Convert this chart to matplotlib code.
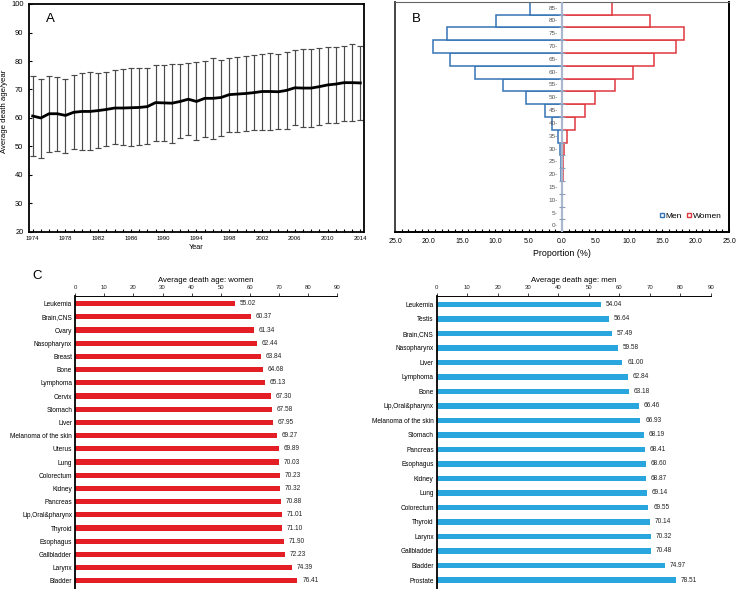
import matplotlib
matplotlib.use('Agg')
import matplotlib.pyplot as plt
from matplotlib.lines import Line2D
from matplotlib.ticker import MultipleLocator, FuncFormatter

plt.rcParams['font.family'] = ['Liberation Sans', 'DejaVu Sans']

# ---------------- Data ----------------
years = list(range(1974, 2015))
mean_age = [60.7, 60.0, 61.5, 61.5, 60.9, 62.0, 62.3, 62.3, 62.6, 63.0,
            63.5, 63.5, 63.6, 63.7, 64.0, 65.4, 65.3, 65.2, 65.8, 66.6,
            65.8, 66.9, 66.9, 67.2, 68.2, 68.4, 68.6, 68.9, 69.3, 69.3,
            69.2, 69.7, 70.6, 70.5, 70.5, 71.0, 71.6, 71.9, 72.4, 72.4, 72.3]
upper_age = [74.9, 73.8, 74.9, 74.5, 73.8, 75.1, 75.7, 76.1, 75.8, 76.1,
             76.7, 77.1, 77.5, 77.5, 77.5, 78.5, 78.7, 78.9, 78.9, 79.3,
             79.6, 79.9, 81.0, 80.3, 81.0, 81.3, 81.9, 82.2, 82.6, 82.8,
             82.4, 83.0, 83.8, 84.3, 84.3, 84.5, 84.9, 84.9, 85.4, 86.0, 85.4]
lower_age = [46.5, 46.0, 48.1, 48.4, 47.6, 49.1, 48.9, 48.8, 49.4, 50.3,
             50.8, 50.5, 50.0, 50.4, 50.8, 52.0, 52.0, 51.3, 53.0, 54.0,
             52.2, 53.4, 52.6, 53.7, 55.2, 55.2, 55.5, 55.9, 55.8, 55.8,
             56.0, 56.0, 57.5, 56.9, 56.8, 57.6, 58.1, 58.2, 58.9, 59.0, 59.3]

age_groups = ['0-', '5-', '10-', '15-', '20-', '25-', '30-', '35-', '40-',
              '45-', '50-', '55-', '60-', '65-', '70-', '75-', '80-', '85-']
men_prop = [0.01, 0.01, 0.02, 0.05, 0.1, 0.1, 0.25, 0.6, 1.5,
            2.6, 5.4, 8.85, 13.0, 16.75, 19.35, 17.15, 9.9, 4.75]
women_prop = [0.02, 0.02, 0.03, 0.05, 0.2, 0.1, 0.35, 0.8, 1.9,
              3.5, 5.0, 7.9, 10.7, 13.7, 17.1, 18.3, 13.1, 7.5]

women_sites = ['Leukemia', 'Brain,CNS', 'Ovary', 'Nasopharynx', 'Breast', 'Bone',
               'Lymphoma', 'Cervix', 'Stomach', 'Liver', 'Melanoma of the skin',
               'Uterus', 'Lung', 'Colorectum', 'Kidney', 'Pancreas',
               'Lip,Oral&pharynx', 'Thyroid', 'Esophagus', 'Gallbladder',
               'Larynx', 'Bladder']
women_age = [55.02, 60.37, 61.34, 62.44, 63.84, 64.68, 65.13, 67.30, 67.58,
             67.95, 69.27, 69.89, 70.03, 70.23, 70.32, 70.88, 71.01, 71.10,
             71.90, 72.23, 74.39, 76.41]

men_sites = ['Leukemia', 'Testis', 'Brain,CNS', 'Nasopharynx', 'Liver', 'Lymphoma',
             'Bone', 'Lip,Oral&pharynx', 'Melanoma of the skin', 'Stomach',
             'Pancreas', 'Esophagus', 'Kidney', 'Lung', 'Colorectum', 'Thyroid',
             'Larynx', 'Gallbladder', 'Bladder', 'Prostate']
men_age = [54.04, 56.64, 57.49, 59.58, 61.00, 62.84, 63.18, 66.46, 66.93, 68.19,
           68.41, 68.60, 68.87, 69.14, 69.55, 70.14, 70.32, 70.48, 74.97, 78.51]

W, H = 737, 589
fig = plt.figure(figsize=(W / 100, H / 100), dpi=100)


def rect(l, t, r, b):
    return [l / W, 1 - b / H, (r - l) / W, (b - t) / H]


# ---------------- Panel A ----------------
axA = fig.add_axes(rect(29, 4, 364, 232))
yerr = [[m - lo for m, lo in zip(mean_age, lower_age)],
        [up - m for m, up in zip(mean_age, upper_age)]]
axA.errorbar(years, mean_age, yerr=yerr, fmt='none', ecolor='#4a4a4a',
             elinewidth=0.85, capsize=2, capthick=0.85, zorder=2)
axA.plot(years, mean_age, color='black', lw=2.0, zorder=3)
axA.set_xlim(1973.55, 2014.45)
axA.set_ylim(20, 100)
axA.set_yticks(range(20, 101, 10))
axA.set_xticks(range(1974, 2015, 4))
axA.xaxis.set_minor_locator(MultipleLocator(1))
axA.tick_params(axis='x', which='both', direction='in', length=2.5, width=0.8,
                labelsize=4.3, pad=3)
axA.tick_params(axis='y', direction='in', length=2.5, width=0.8,
                labelsize=5.4, pad=4)
for s in axA.spines.values():
    s.set_linewidth(1.3)
axA.set_xlabel('Year', fontsize=5.3, labelpad=2)
axA.set_ylabel('Average death age/year', fontsize=5.6)
axA.yaxis.set_label_coords(-0.064, 0.53)
axA.text(0.065, 0.935, 'A', transform=axA.transAxes, fontsize=9.5,
         ha='center', va='center')

# ---------------- Panel B ----------------
axB = fig.add_axes(rect(395, 1.7, 729, 232.3))
men_col = '#3474b4'
women_col = '#e0383e'
ypos = list(range(len(age_groups)))
axB.barh(ypos, [-v for v in men_prop], height=1.0, left=0, color='white',
         edgecolor=men_col, linewidth=1.1, zorder=2)
axB.barh(ypos, women_prop, height=1.0, left=0, color='white',
         edgecolor=women_col, linewidth=1.1, zorder=2)
axB.axvline(0, color='#a9b8cf', lw=1.6, zorder=3)
axB.plot([0] * (len(age_groups) - 1), [i + 0.5 for i in range(len(age_groups) - 1)],
         ls='none', marker='_', ms=4, mew=0.8, color='#8e9fbb', zorder=4)
for i, lab in enumerate(age_groups):
    axB.annotate(lab, (0, i), xytext=(-3, 0), textcoords='offset points',
                 ha='right', va='center', fontsize=4.6, color='#555555', zorder=5)
axB.set_xlim(-25, 25)
axB.set_ylim(-0.5, 17.5)
axB.set_yticks([])
axB.xaxis.set_major_locator(MultipleLocator(5))
axB.xaxis.set_minor_locator(MultipleLocator(1))
axB.xaxis.set_major_formatter(FuncFormatter(lambda v, p: f'{abs(v):.1f}'))
axB.tick_params(axis='x', which='both', direction='in', length=2.5, width=0.8,
                labelsize=5.0, pad=4)
axB.spines['left'].set_linewidth(1.4)
axB.spines['left'].set_color('#444444')
axB.spines['top'].set_linewidth(0.8)
axB.spines['top'].set_color('#666666')
axB.spines['right'].set_linewidth(1.4)
axB.spines['bottom'].set_linewidth(1.4)
axB.set_xlabel('Proportion (%)', fontsize=6.4, labelpad=3)
axB.text(0.065, 0.925, 'B', transform=axB.transAxes, fontsize=9.5,
         ha='center', va='center')
handles = [Line2D([], [], ls='none', marker='s', ms=3.3, mfc='white', mec=men_col, mew=1.0),
           Line2D([], [], ls='none', marker='s', ms=3.3, mfc='white', mec=women_col, mew=1.0)]
axB.legend(handles, ['Men', 'Women'], loc='center', bbox_to_anchor=(0.885, 0.072),
           ncol=2, frameon=False, fontsize=6.0, handlelength=0.6,
           handletextpad=0.15, columnspacing=0.6, borderpad=0)


# ---------------- Panel C ----------------
def site_panel(box, sites, vals, color, title, bar_h):
    ax = fig.add_axes(rect(*box))
    y = list(range(len(sites)))
    ax.barh(y, vals, height=bar_h, color=color, zorder=2)
    for yi, v in zip(y, vals):
        ax.annotate(f'{v:.2f}', (v, yi), xytext=(3.4, 0), textcoords='offset points',
                    ha='left', va='center', fontsize=4.7, color='#222222')
    ax.set_xlim(0, 90)
    ax.set_ylim(len(sites) - 1 + 0.62, -0.58)
    ax.set_yticks(y)
    ax.set_yticklabels(sites, fontsize=4.7)
    ax.tick_params(axis='y', length=0, pad=2.2)
    ax.xaxis.tick_top()
    ax.xaxis.set_label_position('top')
    ax.set_xticks(range(0, 91, 10))
    ax.tick_params(axis='x', direction='out', length=2.5, width=0.6,
                   labelsize=4.3, pad=1.5, colors='#222222')
    ax.spines['right'].set_visible(False)
    ax.spines['bottom'].set_visible(False)
    ax.spines['top'].set_linewidth(0.7)
    ax.spines['left'].set_linewidth(1.3)
    ax.set_xlabel(title, fontsize=5.6, labelpad=2.5)
    return ax


site_panel((75.3, 296, 337, 589), women_sites, women_age, '#e31e24',
           'Average death age: women', 0.4)
site_panel((436.7, 296, 710.7, 589), men_sites, men_age, '#29a6de',
           'Average death age: men', 0.38)
fig.text(37 / W, 1 - 276 / H, 'C', fontsize=9.5, ha='center', va='center')

fig.savefig('out.png', dpi=100)
